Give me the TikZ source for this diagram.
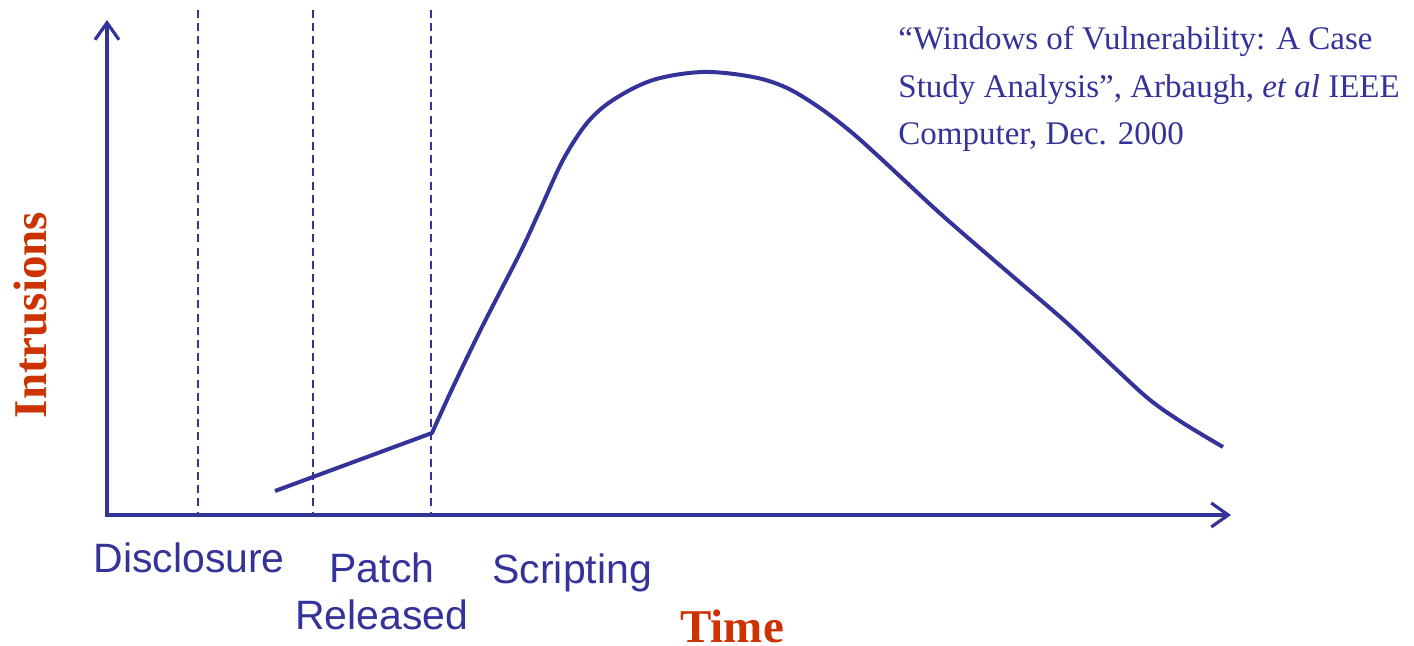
\documentclass[tikz,border=0pt]{standalone}
\usepackage{fontspec}
\setmainfont{Liberation Serif}
\newfontfamily\arialfont{Liberation Sans}
\usepackage{tikz}
\usetikzlibrary{arrows.meta,calc}
\definecolor{slideblue}{RGB}{51,51,153}
\definecolor{slidered}{RGB}{204,51,0}

\begin{document}
\begin{tikzpicture}[x=0.5pt,y=-0.5pt,
    axis/.style={line width=2pt, slideblue, {Straight Barb[length=8.5pt,width=12pt,line width=1.6pt]}-{Straight Barb[length=8.5pt,width=12pt,line width=1.6pt]}},
    marker/.style={line width=0.9pt, slideblue, dash pattern=on 4pt off 2.6pt},
    curve/.style={line width=2pt, slideblue, line join=round},
    event/.style={inner sep=0pt, text=slideblue, font=\arialfont\fontsize{20.5}{23.5}\selectfont},
    axislabel/.style={inner sep=0pt, text=slidered, font=\bfseries\fontsize{23.5}{26}\selectfont}]

    \useasboundingbox (0,0) rectangle (1414,646);

    \coordinate (ytop) at (107,20);
    \coordinate (o) at (107,515);
    \coordinate (xend) at (1231,515);

    \coordinate (disc) at (198,10); \coordinate (patch) at (313,10); \coordinate (script) at (431,10);
    \draw[marker] (disc) -- (disc |- o);
    \draw[marker] (patch) -- (patch |- o);
    \draw[marker] (script) -- (script |- o);

    \draw[axis] (ytop) -- (o) -- (xend);

    \coordinate (start) at (275,491);
    \coordinate (knee) at (432,433);
    \draw[curve] (start) -- (knee) -- plot[smooth, tension=0.55] coordinates {(432,433) (453,387) (482,327) (520,253) (540,210) (563,160) (587,123) (613,100) (653,80) (703,72) (753,77) (787,88) (820,108) (850,131) (877,155) (933,207) (967,237) (1017,280) (1067,323) (1117,370) (1150,400) (1183,423) (1223,447)};

    \node[event, anchor=base west] (disclosure) at (93,573) {Disclosure};
    \node[event, anchor=north, align=center] (released) at (382,552) {Patch\\Released};
    \node[event, anchor=base west] (scripting) at (492,583) {Scripting};

    \node[axislabel, anchor=base west] (time) at (680,642) {Time};
    \node[axislabel, rotate=90] (intrusions) at (30,315) {Intrusions};

    \node[inner sep=0pt, anchor=north west, align=left, text=slideblue, font=\fontsize{16.5}{23.75}\selectfont] (cite) at (898,26)
        {``Windows of Vulnerability: A Case\\Study Analysis'', Arbaugh, \textit{et al} IEEE\\Computer, Dec. 2000};

\end{tikzpicture}
\end{document}
